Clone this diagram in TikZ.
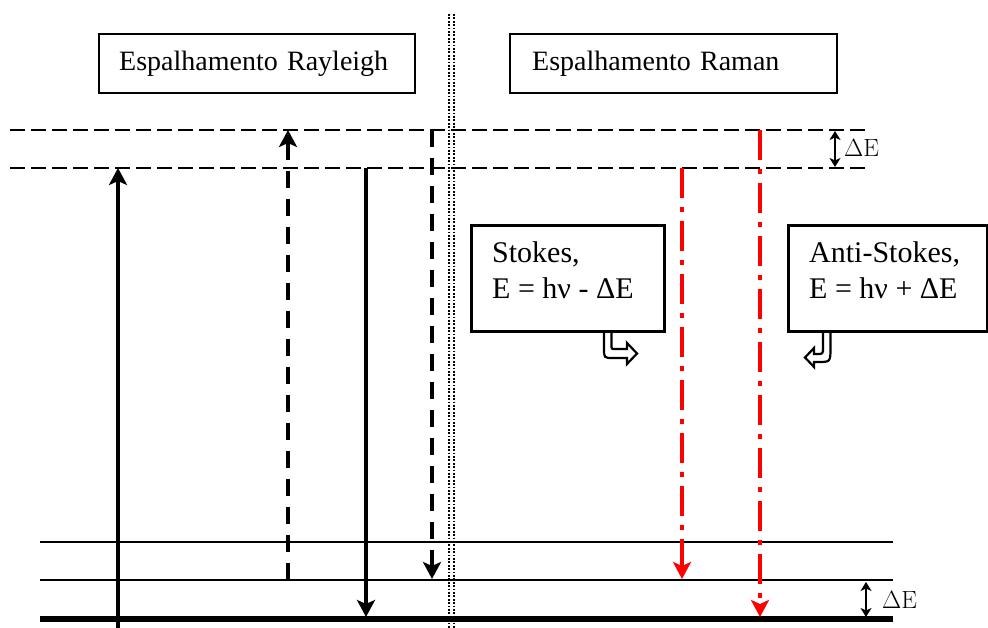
\documentclass[tikz,border=0pt]{standalone}
\usepackage[no-math]{fontspec}
\setmainfont{Liberation Serif}
\usetikzlibrary{arrows.meta}
\begin{document}
\begin{tikzpicture}[x=1pt,y=-1pt,
  virt/.style={line width=2.3pt, dash pattern=on 15pt off 6pt},
  lvl/.style={line width=2pt},
  ground/.style={line width=6pt},
  tr/.style={line width=3.4pt, -{Stealth[length=17pt,width=18pt,inset=4pt]}},
  trdash/.style={tr, dash pattern=on 17pt off 11pt},
  raman/.style={tr, red, dash pattern=on 30pt off 9pt on 5pt off 9pt},
  dE/.style={line width=1.8pt, {Stealth[length=9pt,width=11pt,inset=2.5pt]}-{Stealth[length=9pt,width=11pt,inset=2.5pt]}},
  dElbl/.style={anchor=west, inner sep=0pt, font=\fontsize{24.88}{30}\selectfont},
  titlebox/.style={draw, line width=2.3pt, fill=white, anchor=north west, inner ysep=0pt, minimum height=59pt, align=left, font=\fontsize{28}{34}\selectfont},
  infobox/.style={draw, line width=3pt, fill=white, anchor=north west, inner sep=0pt},
  infotxt/.style={anchor=base west, inner sep=0pt, font=\fontsize{30}{36}\selectfont},
  callout/.style={draw, line width=2.2pt, fill=white, line join=miter}
]
\useasboundingbox (0,0) rectangle (988,628);

% separator
\draw[line width=2pt, dash pattern=on 1.8pt off 1.6pt] (449,14) -- (449,628);
\draw[line width=2pt, dash pattern=on 1.8pt off 1.6pt] (453.5,14) -- (453.5,628);

% titles
\node[titlebox, inner xsep=20pt, text width=276pt] (rayleigh) at (98,33) {Espalhamento Rayleigh};
\node[titlebox, inner xsep=22pt, text width=283pt] (raman) at (509,33) {Espalhamento Raman};

% virtual levels
\draw[virt] (10,130) -- (865,130);
\draw[virt] (10,168) -- (865,168);

% vibrational levels
\draw[lvl] (40,542) -- (893,542);
\draw[lvl] (40,580) -- (893,580);
\draw[ground] (40,619) -- (893,619);

% endpoints
\coordinate (a1s) at (118,628); \coordinate (a1e) at (118,168);
\coordinate (a2s) at (288,580); \coordinate (a2e) at (288,130);
\coordinate (a3s) at (366,168); \coordinate (a3e) at (366,617);
\coordinate (a4s) at (432,130); \coordinate (a4e) at (432,579);
\coordinate (r1s) at (682,168); \coordinate (r1e) at (682,579);
\coordinate (r2s) at (760,130); \coordinate (r2e) at (760,617);

\draw[tr] (a1s) -- (a1e);
\draw[trdash] (a2s) -- (a2e);
\draw[tr] (a3s) -- (a3e);
\draw[trdash] (a4s) -- (a4e);
\draw[raman] (r1s) -- (r1e);
\draw[raman] (r2s) -- (r2e);

% Delta E markers
\coordinate (d1a) at (835,131); \coordinate (d1b) at (835,167);
\coordinate (d2a) at (866,582); \coordinate (d2b) at (866,617);
\draw[dE] (d1a) -- (d1b);
\draw[dE] (d2a) -- (d2b);
\node[dElbl] (dEtop) at (844,148) {$\Delta\mathrm{E}$};
\node[dElbl] (dEbot) at (882,600) {$\Delta\mathrm{E}$};

% callout arrows
\draw[callout] (604,329) -- (604,348) .. controls (604,358) .. (613,358) -- (627,358) -- (627,364) -- (637,353.5) -- (627,343) -- (627,349) -- (615,349) .. controls (611.5,349) .. (611.5,345) -- (611.5,329) -- cycle;
\draw[callout] (830.5,329) -- (830.5,347) .. controls (830.5,362) .. (818,362) -- (814,362) -- (814,367) -- (805,357.5) -- (814,348) -- (814,354) -- (817,354) .. controls (823,354) .. (823,347) -- (823,329) -- cycle;

% info boxes
\node[infobox, minimum width=193pt, minimum height=106pt] (stokes) at (470,224) {};
\node[infobox, minimum width=199pt, minimum height=106pt] (antistokes) at (787,224) {};
\node[infotxt] (stokes1) at (492,263) {Stokes,};
\node[infotxt] (stokes2) at (492,299) {E = hν - ΔE};
\node[infotxt] (anti1) at (809,263) {Anti-Stokes,};
\node[infotxt] (anti2) at (809,299) {E = hν + ΔE};
\end{tikzpicture}
\end{document}
